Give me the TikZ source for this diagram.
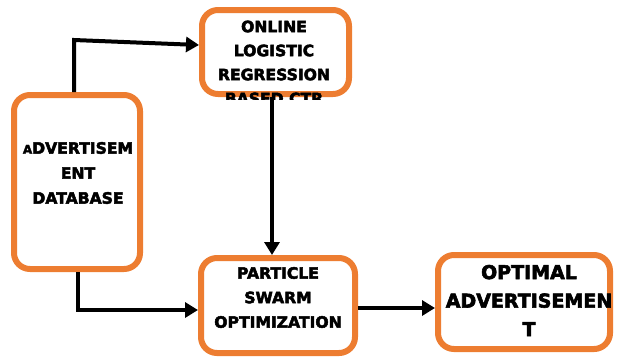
\documentclass[tikz,border=0pt]{standalone}
\usepackage{fontspec}
\newfontfamily\boxfont{DejaVu Sans Bold}[FakeBold=3]
\usetikzlibrary{arrows.meta}
\definecolor{boxorange}{HTML}{ED7D31}
\begin{document}
\begin{tikzpicture}[x=1pt,y=-1pt,
  box/.style={draw=boxorange, line width=6pt, rounded corners=16pt, fill=white, inner sep=0pt},
  lbl/.style={align=center, inner sep=0pt, font=\boxfont\fontsize{15.6}{24.5}\selectfont},
  arr/.style={line width=4pt, -{Triangle[length=13pt,width=15pt]}}]
\useasboundingbox (0,0) rectangle (617,357);

% rounded boxes
\node[box, minimum width=147pt, minimum height=84pt] (olr) at (275.5,52) {};
\node[box, minimum width=126pt, minimum height=174pt] (db) at (77,182) {};
\node[box, minimum width=154pt, minimum height=95pt] (pso) at (278,305.5) {};
\node[box, minimum width=172pt, minimum height=94pt] (opt) at (524,302) {};

% box texts
\begin{scope}
  \clip (190,0) rectangle (360,99);
  \node[lbl, font=\boxfont\fontsize{15.6}{24}\selectfont] (t1) at (274,62.5) {ONLINE\\LOGISTIC\\REGRESSION\\BASED CTR};
\end{scope}
\node[lbl, font=\boxfont\fontsize{15.6}{25}\selectfont] (t2) at (78,173) {{\fontsize{12}{12}\selectfont A}DVERTISEM\\ENT\\DATABASE};
\node[lbl] (t3) at (278,297.5) {PARTICLE\\SWARM\\OPTIMIZATION};
\node[lbl, font=\boxfont\fontsize{19}{28.5}\selectfont] (t4) at (529,300.5) {OPTIMAL\\ADVERTISEMEN\\T};

% connectors
\coordinate (k1) at (74,40);
\coordinate (k2) at (272,0);
\coordinate (k3) at (78,310);
\coordinate (k4) at (0,308);
\draw[arr] (db.north -| k1) -- (k1) -- ([yshift=7pt]olr.west);
\draw[arr] (olr.south -| k2) -- (pso.north -| k2);
\draw[arr] (db.south -| k3) -- (k3) -- (pso.west |- k3);
\draw[arr] (pso.east |- k4) -- (opt.west |- k4);
\end{tikzpicture}
\end{document}
